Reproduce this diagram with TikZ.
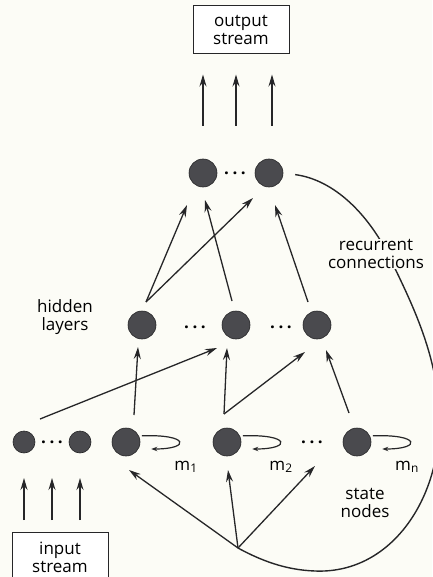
\documentclass[tikz,border=0pt]{standalone}
\usepackage{fontspec}
\setmainfont{Open Sans}
\usepackage{tikz}
\usetikzlibrary{positioning,arrows.meta,calc}
\definecolor{nPaper}{RGB}{252,252,246}
\definecolor{nInk}{RGB}{38,38,40}
\definecolor{nUnit}{RGB}{74,74,78}
\tikzset{
  unit/.style={circle, draw=nInk, fill=nUnit, line width=0.6pt,
               minimum size=28pt, inner sep=0pt},
  inunit/.style={unit, minimum size=22pt},
  stream/.style={rectangle, draw=nInk, line width=1pt, fill=white,
                 minimum width=96pt, align=center,
                 font=\fontsize{17}{17.5}\selectfont},
  lbl/.style={align=center, font=\fontsize{17}{17.5}\selectfont, inner sep=1pt},
  gap/.style={inner sep=0pt, font=\fontsize{17}{17.5}\selectfont\bfseries},
  flow/.style={-{Stealth[length=12pt,width=7pt,inset=4pt]}, draw=nInk, line width=1.3pt},
  selfflow/.style={-{Stealth[length=6pt,width=4.5pt,inset=2pt]}, draw=nInk, line width=1.2pt},
  recur/.style={draw=nInk, line width=1.4pt},
}
\newcommand{\gapdots}{.\hspace{3.5pt}.\hspace{3.5pt}.}

\begin{document}
\begin{tikzpicture}[x=1pt, y=-1pt]
  \fill[nPaper] (0,0) rectangle (432,577);
  \useasboundingbox (0,0) rectangle (432,577);

  % --- streams ---
  \node[stream, minimum height=48pt] (out) at (241,30) {output\\stream};
  \node[stream, minimum height=50pt, anchor=north] (inbox) at (60,532) {input\\stream};

  % --- output layer ---
  \node[unit] (t1) at (203,173) {};
  \node[unit] (t2) at (269,173) {};
  \node[gap] (tdots) at (235,173) {\gapdots};

  % --- hidden layers ---
  \node[unit] (h1) at (142,325) {};
  \node[unit] (h2) at (236,325) {};
  \node[unit] (h3) at (317,325) {};
  \node[gap] (hdots1) at (195,327) {\gapdots};
  \node[gap] (hdots2) at (281,327) {\gapdots};
  \node[lbl] (hidlbl) at (65,317) {hidden\\layers};

  % --- input and state nodes ---
  \node[inunit] (in1) at (24,442) {};
  \node[inunit] (in2) at (80,442) {};
  \node[gap] (idots) at (52,442) {\gapdots};
  \node[unit] (s1) at (126,442) {};
  \node[unit] (s2) at (227,442) {};
  \node[unit] (s3) at (357,442) {};
  \node[gap] (sdots) at (312,442) {\gapdots};
  \node[lbl] (m1) at (186,467) {m\textsubscript{1}};
  \node[lbl] (m2) at (281,467) {m\textsubscript{2}};
  \node[lbl] (mn) at (407,467) {m\textsubscript{n}};
  \node[lbl] (statelbl) at (365,503) {state\\nodes};

  % --- free ends ---
  \coordinate (o1) at (203,126);
  \coordinate (o2) at (236,126);
  \coordinate (o3) at (272,126);
  \coordinate (i1) at (24,478);
  \coordinate (i2) at (52,478);
  \coordinate (i3) at (80,478);
  \coordinate (hub) at (238,548);

  % --- stream arrows ---
  \foreach \c in {o1,o2,o3}
    \draw[flow, shorten >=20pt] (\c) -- (\c |- out.south);
  \foreach \c in {i1,i2,i3}
    \draw[flow, shorten <=12pt] (\c |- inbox.north) -- (\c);

  % --- feed-forward links ---
  \draw[flow] ([shift={(16,-23)}]in1.center) -- ([shift={(-19,23)}]h2.center);
  \draw[flow] ([shift={(8,-27)}]s1.center) -- ([shift={(-4,22)}]h1.center);
  \draw[flow] ([shift={(-3,-28)}]s2.center) -- ([shift={(-9,23)}]h2.center);
  \draw[flow] ([shift={(-3,-28)}]s2.center) -- ([shift={(-12,27)}]h3.center);
  \draw[flow] ([shift={(-8,-29)}]s3.center) -- ([shift={(9,25)}]h3.center);
  \draw[flow] ([shift={(4,-23)}]h1.center) -- ([shift={(-16,32)}]t1.center);
  \draw[flow] ([shift={(4,-23)}]h1.center) -- ([shift={(-16,25)}]t2.center);
  \draw[flow] ([shift={(-4,-24)}]h2.center) -- ([shift={(2,27)}]t1.center);
  \draw[flow] ([shift={(-9,-23)}]h3.center) -- ([shift={(6,32)}]t2.center);

  % --- self loops m1..mn ---
  \foreach \s in {s1,s2,s3}
    \draw[selfflow, shorten <=3pt] (\s.25) .. controls +(50,-2) and +(40,0)
      .. ([shift={(11,7)}]\s.east);

  % --- recurrent connections ---
  \draw[recur, shorten <=12pt] (t2.east) .. controls (335,180) and (368,215) .. (388,254)
    .. controls (410,300) and (442,360) .. (439,430)
    .. controls (436,505) and (388,574) .. (315,571)
    .. controls (285,570) and (260,560) .. (hub);
  \node[lbl, fill=nPaper] (reclbl) at (376,254) {recurrent\\connections};
  \draw[flow] (hub) -- ([shift={(3,28)}]s1.center);
  \draw[flow] (hub) -- ([shift={(1,28)}]s2.center);
  \draw[flow] (hub) -- ([shift={(3,24)}]sdots.center);
\end{tikzpicture}
\end{document}
